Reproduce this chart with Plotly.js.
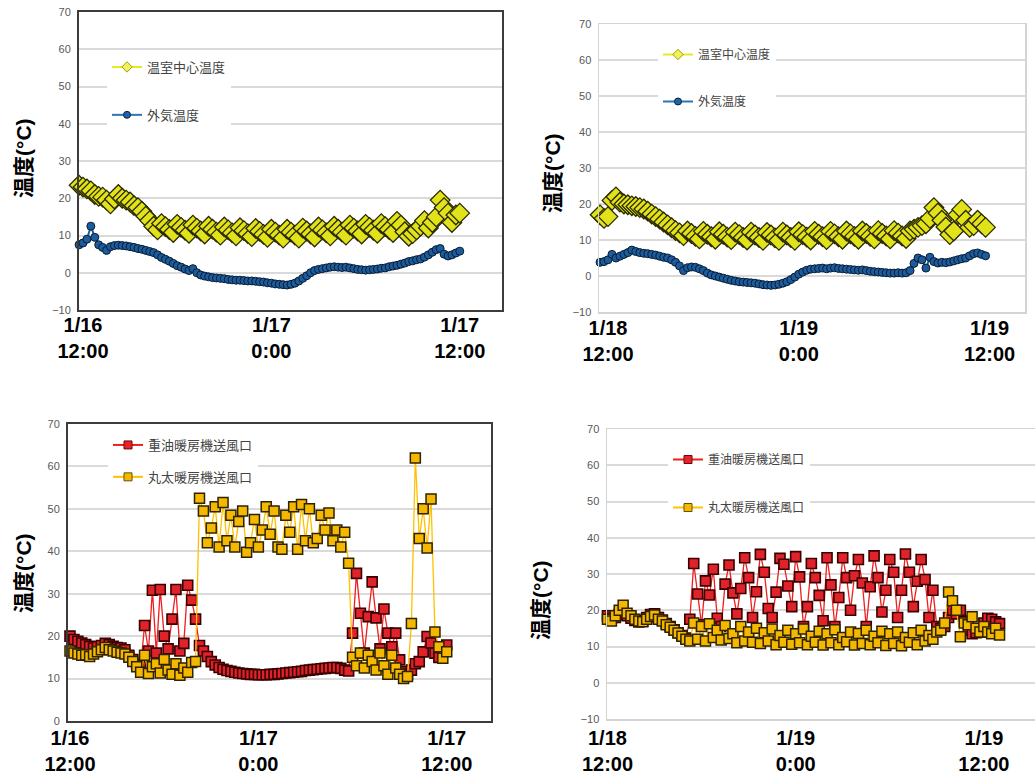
<!DOCTYPE html>
<html>
<head>
<meta charset="utf-8">
<script src="https://cdn.plot.ly/plotly-3.0.1.min.js"></script>
<style>html,body{margin:0;padding:0;background:#fff;}#chart{width:1035px;height:775px;}</style>
</head>
<body>
<div id="chart"></div>
<script>
// ---- Data (hours from 12:00 of first day, 15-minute logging) ----
const STEP_H = 0.25;

// Top-left: 1/16 12:00 – 1/17 12:00
const p1Start = -0.25;
const p1Center = [23.5, 23.0, 22.5, 22.0, 21.0, 20.5, 20.3, 19.5, 18.5, 19.8, 21.0, 20.0, 19.5, 19.0, 18.0, 17.5, 16.5, 15.2, 14.0, 12.5, 11.5,
  13.2, 12.4, 11.6, 10.8, 13.0, 12.2, 11.4, 10.6, 12.8, 12.0, 11.2, 10.4, 12.5, 11.7, 10.9, 10.1,
  12.3, 11.5, 10.7, 9.9, 12.1, 11.3, 10.5, 9.7, 11.9, 11.1, 10.3, 9.5, 11.7, 10.9, 10.1, 9.3,
  11.7, 10.9, 10.1, 9.3, 12.0, 11.2, 10.4, 9.6, 12.3, 11.5, 10.7, 9.9, 12.5, 11.7, 10.9, 10.1,
  12.8, 12.0, 11.2, 10.4, 13.0, 12.2, 11.4, 10.6, 13.2, 12.4, 11.6, 10.8,
  13.8, 12.8, 11.0, 9.8, 10.5, 11.5, 12.5, 14.0, 12.0, 13.5, 15.0, 19.5, 17.5, 16.0, 13.5, 15.5, 16.0];
const p1Outside = [7.5, 8.0, 9.0, 12.5, 9.5, 7.5, 6.8, 6.0, 7.0, 7.3,
  7.4, 7.3, 7.2, 7.0, 6.8, 6.5, 6.3, 6.0, 5.7, 5.4,
  4.8, 4.1, 3.6, 3.1, 2.5, 1.9, 1.5, 1.0, 0.6, 1.1,
  0.0, -0.6, -0.9, -1.1, -1.3, -1.4, -1.5, -1.6, -1.8, -1.9,
  -2.0, -2.0, -2.1, -2.2, -2.2, -2.3, -2.4, -2.5, -2.7, -2.8,
  -3.0, -3.1, -3.2, -3.3, -3.1, -2.8, -2.2, -1.5, -0.8, 0.0,
  0.6, 0.9, 1.1, 1.3, 1.5, 1.6, 1.5, 1.4, 1.5, 1.3,
  1.1, 0.9, 0.8, 0.7, 0.8, 0.9, 1.0, 1.2, 1.3, 1.6,
  1.8, 2.0, 2.3, 2.6, 3.0, 3.2, 3.5, 3.7, 4.2, 4.8,
  5.5, 6.2, 6.5, 5.0, 4.5, 4.8, 5.3, 5.8];

// Top-right: 1/18 12:00 – 1/19 12:00
const p2Start = -0.5;
const p2Center = [17.0, 16.0, 16.5, 21.0, 22.0, 20.5, 20.0, 19.8, 19.5, 19.3, 19.0, 18.6, 18.0, 17.2, 16.5, 15.8, 15.0, 14.2, 13.4, 12.6, 12.0, 11.2,
  12.5, 11.8, 11.0, 10.3, 12.4, 11.6, 10.9, 10.2, 12.3, 11.6, 10.8, 10.1, 12.2, 11.5, 10.7, 10.0,
  12.2, 11.4, 10.7, 9.9, 12.1, 11.4, 10.6, 9.9, 12.2, 11.4, 10.7, 9.9, 12.3, 11.5, 10.8, 10.0,
  12.4, 11.6, 10.9, 10.1, 12.4, 11.7, 10.9, 10.2, 12.5, 11.7, 11.0, 10.2, 12.5, 11.8, 11.0, 10.3,
  12.6, 11.8, 11.1, 10.3, 12.6, 11.9, 11.1, 10.4,
  12.5, 13.0, 13.5, 14.0, 14.5, 16.0, 19.0, 17.5, 15.5, 13.6, 11.5, 12.5, 17.0, 18.5, 15.5, 13.5, 14.0, 15.5, 14.5, 13.5];
const p2Outside = [3.8, 4.0, 4.5, 6.0, 5.0, 5.5, 6.0, 6.5, 7.2, 6.8,
  6.5, 6.3, 6.2, 6.0, 5.8, 5.5, 5.2, 5.0, 4.5, 3.8,
  2.8, 1.5, 2.3, 2.5, 2.4, 2.0, 1.5, 0.8, 0.3, 0.0,
  -0.3, -0.6, -0.9, -1.2, -1.4, -1.6, -1.7, -1.8, -1.9, -2.0,
  -2.2, -2.4, -2.5, -2.6, -2.5, -2.3, -2.0, -1.6, -1.0, -0.3,
  0.5, 1.1, 1.6, 1.9, 2.0, 2.1, 2.2, 2.0, 2.2, 2.3,
  2.1, 2.0, 1.9, 1.8, 1.7, 1.6, 1.7, 1.5, 1.3, 1.2,
  1.1, 1.0, 0.9, 0.8, 0.8, 0.9, 0.8, 0.9, 1.5, 3.5,
  5.0, 4.5, 2.2, 5.2, 4.0, 3.6, 3.8, 3.7, 3.9, 4.2,
  4.5, 4.8, 5.0, 5.6, 6.2, 6.4, 6.0, 5.6];

// Bottom-left: 1/16 12:00 – 1/17 12:00
const p3Start = 0;
const p3Oil = [20.0, 19.2, 18.8, 18.4, 18.0, 17.6, 17.2, 17.5, 17.8, 18.3, 18.0, 17.6, 17.3, 17.2, 16.8, 15.5, 14.5, 13.3, 12.8,
  22.5, 16.5, 30.8, 16.0, 31.0, 20.0, 17.0, 24.0, 31.0, 16.5, 18.3, 32.0, 28.5, 24.0,
  17.8, 16.5, 15.2, 14.0, 13.2, 12.6, 12.2, 11.9, 11.7, 11.5, 11.3, 11.2, 11.1, 11.0, 11.0, 10.9, 10.9, 10.9, 11.0, 11.0,
  11.1, 11.2, 11.3, 11.4, 11.5, 11.6, 11.7, 11.9, 12.0, 12.1, 12.2, 12.3, 12.4, 12.5, 12.6, 12.6, 12.4, 12.0, 11.8,
  20.7, 34.8, 25.4, 16.0, 24.6, 32.8, 24.3, 17.0, 26.4, 20.7, 17.5, 20.7, 14.4,
  11.6, 11.0, 12.0, 13.5, 14.0, 16.3, 19.9, 18.4, 16.0, 15.0, 16.5, 17.9];
const p3Log = [16.5, 16.0, 15.8, 15.5, 15.6, 15.2, 15.8, 16.3, 16.8, 17.3, 16.8, 16.5, 16.2, 16.0, 15.8, 15.0, 14.0, 12.8, 11.5,
  15.5, 11.2, 12.8, 13.5, 11.3, 14.5, 12.0, 11.0, 13.5, 10.8, 12.5, 11.5, 13.8, 14.0,
  52.5, 49.5, 42.0, 45.5, 50.5, 41.0, 51.5, 42.5, 48.5, 41.0, 47.0, 49.5, 39.8, 42.0, 47.5, 41.0, 45.0, 50.5, 44.0, 49.5,
  41.0, 40.5, 48.5, 44.5, 50.5, 40.5, 51.0, 42.5, 50.0, 42.0, 43.0, 48.5, 45.0, 49.0, 42.5, 45.0, 41.0, 44.5, 37.2,
  15.0, 13.0, 16.0, 12.5, 15.5, 14.0, 12.0, 16.0, 13.0, 11.0, 15.5, 12.5, 11.0, 10.0, 10.5,
  23.0, 62.0, 43.0, 50.0, 40.8, 52.3, 21.0, 17.5, 14.8, 16.3];

// Bottom-right: 1/18 12:00 – 1/19 12:00
const p4Start = 0;
const p4Oil = [18.5, 17.8, 18.0, 18.8, 19.0, 18.5, 17.8, 17.2, 16.8, 17.0, 18.0, 18.8, 19.0, 18.0, 17.3, 16.3, 15.5, 14.6, 13.8, 13.0, 12.3,
  17.5, 32.9, 24.5, 16.0, 28.1, 24.2, 31.3, 17.8, 15.5, 27.2, 32.5, 24.8, 19.0, 26.0, 34.5, 29.0,
  18.0, 25.1, 35.4, 30.5, 20.5, 18.0, 25.0, 34.3, 32.7, 26.7, 21.0, 34.8, 29.2, 15.5, 21.0, 32.9,
  29.0, 24.1, 17.1, 34.5, 27.0, 15.5, 23.5, 34.5, 29.0, 20.0, 29.5, 34.0, 27.5, 15.5, 26.5, 35.0,
  29.0, 19.5, 25.5, 34.0, 30.5, 18.0, 25.5, 35.5, 30.5, 21.0, 28.0, 34.0, 28.5, 18.0, 25.5, 15.5,
  15.0, 15.5, 18.0, 20.0, 19.0, 20.0, 17.0, 14.5, 13.5, 13.8, 14.0, 16.5, 17.8, 17.5, 16.8, 16.3];
const p4Log = [17.5, 17.0, 18.5, 20.0, 21.4, 19.2, 18.5, 17.5, 17.0, 16.8, 17.5, 18.3, 18.7, 17.5, 17.0, 16.0, 15.3, 14.5, 13.7, 12.8, 12.0, 11.5,
  16.5, 12.0, 15.5, 11.5, 16.3, 12.5, 14.5, 11.8, 15.8, 12.2,
  13.5, 11.0, 15.5, 11.5, 14.0, 11.2, 15.0, 10.8, 13.8, 11.5,
  14.8, 10.5, 13.0, 11.2, 14.5, 10.6, 13.5, 11.0, 14.8, 10.5,
  12.8, 11.2, 14.2, 10.4, 13.5, 11.0, 14.6, 10.5, 12.5, 11.3,
  14.0, 10.4, 13.6, 10.8, 14.5, 10.5, 12.8, 11.0, 14.2, 10.3,
  13.5, 10.8, 14.0, 10.2, 12.5, 11.2, 13.8, 10.5, 14.5, 11.5,
  13.0, 12.0, 14.0,
  14.5, 16.5, 25.0, 22.6, 20.0, 12.7, 16.5, 16.0, 18.2, 15.0, 14.0, 15.5, 14.0, 13.5, 15.0, 13.2];

// Labels
const seriesNames = {center: '温室中心温度', outside: '外気温度', oil: '重油暖房機送風口', log: '丸太暖房機送風口'};
const tickTextLeft = ['1/16<br>12:00', '1/17<br>0:00', '1/17<br>12:00'];
const tickTextRight = ['1/18<br>12:00', '1/19<br>0:00', '1/19<br>12:00'];
const tickHours = [0, 12, 24];
const yTitle = '温度(°C)';

function hours(start, n) { const a = []; for (let i = 0; i < n; i++) a.push(start + i * STEP_H); return a; }

// ---- Styles ----
const ST = {
  center: {mode: 'lines+markers', line: {color: '#e6e61c', width: 1.5},
    marker: {symbol: 'diamond', size: 15, color: '#e2e21a', line: {color: '#2a2a00', width: 1.3}}},
  outside: {mode: 'lines+markers', line: {color: '#1f5a98', width: 2},
    marker: {symbol: 'circle', size: 8, color: '#1d5c9c', line: {color: '#081c33', width: 1}}},
  oil: {mode: 'lines+markers', line: {color: '#f01e1e', width: 1.3},
    marker: {symbol: 'square', size: 10, color: '#e0222a', line: {color: '#3a0000', width: 1.6}}},
  log: {mode: 'lines+markers', line: {color: '#ffc000', width: 1.3},
    marker: {symbol: 'square', size: 10, color: '#f5b800', line: {color: '#2e2200', width: 1.5}}}
};
const LEG = {
  center: {line: {color: '#e8e820', width: 2}, marker: {symbol: 'diamond', size: 8, color: '#f0f060', line: {color: '#a0a000', width: 1}}},
  outside: {line: {color: '#2e75b6', width: 2}, marker: {symbol: 'circle', size: 7, color: '#1f63a8', line: {color: '#0b2440', width: 1}}},
  oil: {line: {color: '#f01e1e', width: 2}, marker: {symbol: 'square', size: 8, color: '#e8222a', line: {color: '#6a0a0a', width: 1}}},
  log: {line: {color: '#ffc000', width: 2}, marker: {symbol: 'square', size: 8, color: '#f5b800', line: {color: '#6a5000', width: 1}}}
};

const traces = [];
function addSeries(key, start, vals, ax) {
  traces.push(Object.assign({type: 'scatter', x: hours(start, vals.length), y: vals, xaxis: 'x' + ax, yaxis: 'y' + ax,
    showlegend: false, cliponaxis: false, hoverinfo: 'skip', name: seriesNames[key]}, JSON.parse(JSON.stringify(ST[key]))));
}
function addLegend(key, ax, legendId) {
  traces.push(Object.assign({type: 'scatter', mode: 'lines+markers', x: [null], y: [null], xaxis: 'x' + ax, yaxis: 'y' + ax,
    name: seriesNames[key], legend: legendId, legendgroup: key + ax, showlegend: true}, JSON.parse(JSON.stringify(LEG[key]))));
}
addSeries('outside', p1Start, p1Outside, '');
addSeries('center', p1Start, p1Center, '');
addLegend('center', '', 'legend'); addLegend('outside', '', 'legend');
addSeries('outside', p2Start, p2Outside, '2');
addSeries('center', p2Start, p2Center, '2');
addLegend('center', '2', 'legend2'); addLegend('outside', '2', 'legend2');
addSeries('oil', p3Start, p3Oil, '3');
addSeries('log', p3Start, p3Log, '3');
addLegend('oil', '3', 'legend3'); addLegend('log', '3', 'legend3');
addSeries('oil', p4Start, p4Oil, '4');
addSeries('log', p4Start, p4Log, '4');
addLegend('oil', '4', 'legend4'); addLegend('log', '4', 'legend4');

const W = 1035, H = 775;
function xAx(px0, px1, range, ticktext, dark, anchor, standoff) {
  return {domain: [px0 / W, px1 / W], range: range, anchor: anchor, tickmode: 'array', tickvals: tickHours, ticktext: ticktext,
    showgrid: false, zeroline: false, showline: true, mirror: true, ticks: '',
    linecolor: dark ? '#3c3c3c' : '#d4d4d4', linewidth: dark ? 2 : 1.5,
    tickfont: {family: 'Liberation Sans, Arial, sans-serif', size: 20, color: '#000', weight: 'bold'}, ticklabelstandoff: standoff};
}
function yAx(pyTop, pyBot, range, dark, anchor) {
  return {domain: [1 - pyBot / H, 1 - pyTop / H], range: range, anchor: anchor, dtick: 10, tick0: 0,
    showgrid: true, gridcolor: '#dadada', gridwidth: 2, zeroline: false, showline: true, mirror: true, ticks: '',
    linecolor: dark ? '#3c3c3c' : '#d4d4d4', linewidth: dark ? 2 : 1.5,
    tickfont: {family: 'Liberation Sans, Arial, sans-serif', size: 11, color: '#595959'}, ticklabelstandoff: 4};
}
function legendAt(pxLeft, pxTop, gap, fs) {
  return {x: pxLeft / W, y: 1 - pxTop / H, xanchor: 'left', yanchor: 'top', bgcolor: '#ffffff', borderwidth: 0,
    traceorder: 'grouped', tracegroupgap: gap, itemwidth: 30,
    font: {family: 'Noto Sans CJK JP, sans-serif', size: fs, color: '#444'}};
}
function yTitleAnn(px, py) {
  return {text: yTitle, xref: 'paper', yref: 'paper', x: px / W, y: 1 - py / H, showarrow: false, textangle: -90,
    xanchor: 'center', yanchor: 'middle', font: {family: 'Liberation Sans, Noto Sans CJK JP, sans-serif', size: 21, color: '#000', weight: 'bold'}};
}

const layout = {
  width: W, height: H, margin: {l: 0, r: 0, t: 0, b: 0}, paper_bgcolor: '#fff', plot_bgcolor: '#fff',
  font: {family: 'Liberation Sans, Arial, sans-serif'},
  xaxis: xAx(79, 502, [-0.255, 26.69], tickTextLeft, true, 'y', -4),
  yaxis: yAx(12, 310, [-10, 70], true, 'x'),
  xaxis2: xAx(599, 1025, [-0.566, 26.23], tickTextRight, false, 'y2', -3),
  yaxis2: yAx(24, 312, [-10, 70], false, 'x2'),
  xaxis3: xAx(68, 491, [-0.127, 26.82], tickTextLeft, true, 'y3', -2),
  yaxis3: yAx(424, 721, [0, 70], true, 'x3'),
  xaxis4: xAx(607, 1035, [-0.03, 27.26], tickTextRight, false, 'y4', 0),
  yaxis4: yAx(429, 719, [-10, 70], false, 'x4'),
  legend: legendAt(107, 52, 28, 13),
  legend2: legendAt(658, 40, 28, 12),
  legend3: legendAt(108, 430, 12, 13),
  legend4: legendAt(668, 445, 29, 12),
  annotations: [yTitleAnn(23, 158), yTitleAnn(552, 173), yTitleAnn(23, 573), yTitleAnn(540, 600)]
};

Plotly.newPlot('chart', traces, layout, {displayModeBar: false, staticPlot: true});
</script>
</body>
</html>
